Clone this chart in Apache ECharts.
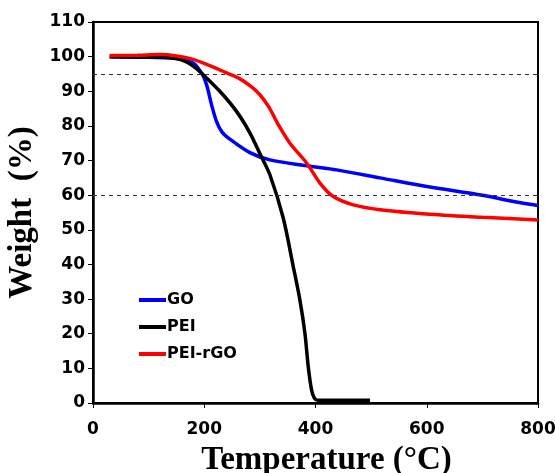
<!DOCTYPE html>
<html>
  <head>
    <meta charset="UTF-8" />
    <title>TGA</title>
    <style>
      html, body { margin: 0; padding: 0; background: #fff; }
      #main { width: 555px; height: 473px; }
    </style>
  </head>
  <body>
    <div id="main"></div>
  </body>
  <script src="https://cdn.jsdelivr.net/npm/echarts@6/dist/echarts.min.js"></script>
  <script>
    // temperatures (°C) and weights (%)
    var goT = [30, 100, 156, 180, 195, 204, 213, 222, 232, 246, 282, 318, 384, 438, 516, 600, 700, 756, 800];
    var goW = [100, 99.8, 99.4, 98.2, 95.3, 92, 86.2, 81.3, 78.2, 76.2, 72.3, 70.2, 68.5, 67.3, 65, 62.5, 60, 58.2, 57];
    var peiT = [30, 120, 156, 180, 198, 228, 258, 282, 300, 318, 342, 360, 372, 381, 387, 393, 398, 404, 450, 498];
    var peiW = [100, 99.9, 99.2, 97.3, 94.8, 90, 84.2, 78, 72, 65.9, 53.4, 39.4, 29.7, 20.1, 10.4, 3.7, 1.4, 0.8, 0.8, 0.8];
    var rgoT = [30, 80, 120, 150, 180, 210, 240, 262, 284, 300, 316, 333, 354, 384, 408, 432, 468, 516, 606, 700, 756, 800];
    var rgoW = [100.3, 100.4, 100.6, 100.2, 99.2, 97.4, 95.3, 93.8, 91.4, 89, 85.5, 80.4, 75, 69.3, 63.5, 59.6, 57.2, 55.8, 54.5, 53.6, 53.2, 52.8];
    var dashLevels = [95, 60];
    var names = ["GO", "PEI", "PEI-rGO"];

    function pairs(t, w) {
      var out = [];
      for (var i = 0; i < t.length; i++) out.push([t[i], w[i]]);
      return out;
    }

    var myChart = echarts.init(document.getElementById("main"));

    var tickFont = {
      color: "#000",
      fontFamily: "DejaVu Sans",
      fontWeight: "bold",
      fontSize: 17,
    };

    var option = {
      animation: false,
      grid: {
        left: 93,
        right: 17,
        top: 22,
        bottom: 70,
        containLabel: false,
        outerBoundsMode: "none",
        show: true,
        borderColor: "#000",
        borderWidth: 2,
      },
      legend: {
        orient: "vertical",
        left: 134,
        top: 286,
        itemGap: 9,
        itemWidth: 27,
        itemHeight: 4,
        icon: "rect",
        data: names,
        textStyle: {
          color: "#000",
          fontFamily: "DejaVu Sans",
          fontWeight: "bold",
          fontSize: 16,
          lineHeight: 18,
          padding: [0, 0, 0, -4],
        },
      },
      xAxis: {
        type: "value",
        min: 0,
        max: 800,
        interval: 200,
        name: "Temperature (°C)",
        nameLocation: "middle",
        nameGap: 41,
        nameTextStyle: {
          color: "#000",
          fontFamily: "Liberation Serif, Times New Roman",
          fontWeight: "bold",
          fontSize: 33,
          padding: [0, 0, 0, 22],
        },
        axisLine: { lineStyle: { color: "#000", width: 2.5 } },
        axisTick: { length: 5, lineStyle: { color: "#000" } },
        axisLabel: Object.assign({ margin: 18 }, tickFont),
        splitLine: { show: false },
      },
      yAxis: {
        type: "value",
        min: 0,
        max: 110,
        interval: 10,
        name: "Weight  (%)",
        nameLocation: "middle",
        nameGap: 45,
        nameTextStyle: {
          color: "#000",
          fontFamily: "Liberation Serif, Times New Roman",
          fontWeight: "bold",
          fontSize: 33,
        },
        axisLine: { show: true, lineStyle: { color: "#000", width: 2.5 } },
        axisTick: { show: true, length: 5, lineStyle: { color: "#000" } },
        axisLabel: Object.assign({ margin: 8 }, tickFont),
        splitLine: { show: false },
      },
      series: [
        {
          name: "GO",
          type: "line",
          data: pairs(goT, goW),
          smooth: 0.3,
          showSymbol: false,
          lineStyle: { color: "#0000ff", width: 3.5 },
          itemStyle: { color: "#0000ff" },
          z: 3,
          markLine: {
            silent: true,
            symbol: "none",
            label: { show: false },
            lineStyle: { color: "#333", width: 1, type: [4, 4] },
            data: dashLevels.map(function (v) { return { yAxis: v }; }),
          },
        },
        {
          name: "PEI",
          type: "line",
          data: pairs(peiT, peiW),
          smooth: 0.3,
          showSymbol: false,
          lineStyle: { color: "#000", width: 3.5 },
          itemStyle: { color: "#000" },
          z: 4,
        },
        {
          name: "PEI-rGO",
          type: "line",
          data: pairs(rgoT, rgoW),
          smooth: 0.3,
          showSymbol: false,
          lineStyle: { color: "#ff0000", width: 3.5 },
          itemStyle: { color: "#ff0000" },
          z: 5,
        },
      ],
    };
    myChart.setOption(option);
  </script>
</html>
